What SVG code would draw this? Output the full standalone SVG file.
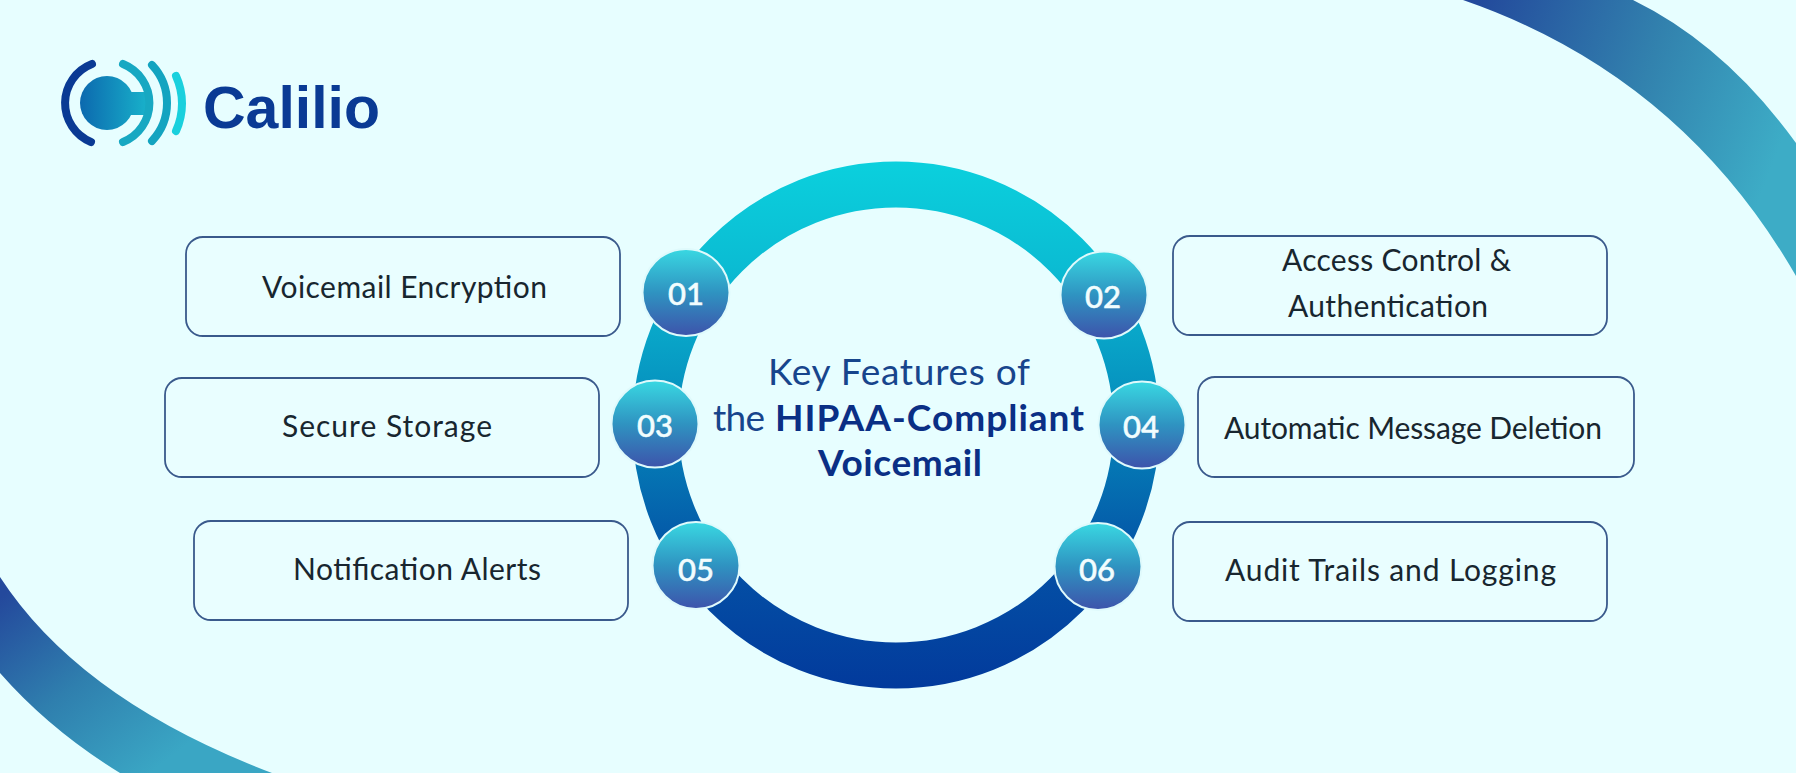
<svg xmlns="http://www.w3.org/2000/svg" width="1796" height="773" viewBox="0 0 1796 773">
<style>
.box{fill:#e9feff;stroke:#3a5a8c;stroke-width:1.8}
.lbl{font-family:"Lato","Noto Sans",sans-serif;font-size:30px;fill:#18262f}
.badge{fill:url(#badge);stroke:#dffafc;stroke-width:2}
.num{font-family:"Lato","Noto Sans",sans-serif;font-size:31px;font-weight:500;fill:#f2fdfe;text-anchor:middle;stroke:#f2fdfe;stroke-width:.5}
.ttl{font-family:"Lato","Noto Sans",sans-serif;font-size:37px;fill:#17458c}
.ttlb{font-weight:700;fill:#0a2f85}
.mk{fill:none;stroke-linecap:round;stroke-width:8}
</style>
<defs>
<linearGradient id="ringG" gradientUnits="userSpaceOnUse" x1="0" y1="162" x2="0" y2="688">
<stop offset="0" stop-color="#0bd0dd"/><stop offset="0.2" stop-color="#0bbcd3"/><stop offset="0.5" stop-color="#0587ba"/><stop offset="0.75" stop-color="#0452a6"/><stop offset="1" stop-color="#023a9c"/>
</linearGradient>
<linearGradient id="badge" x1="0" y1="0" x2="0" y2="1">
<stop offset="0" stop-color="#39d8e2"/><stop offset="0.5" stop-color="#2f93c1"/><stop offset="1" stop-color="#3d53ab"/>
</linearGradient>
<linearGradient id="tr" gradientUnits="userSpaceOnUse" x1="1480" y1="0" x2="1790" y2="120">
<stop offset="0" stop-color="#234a9c"/><stop offset="0.55" stop-color="#3282ae"/><stop offset="1" stop-color="#3dacc6"/>
</linearGradient>
<linearGradient id="bl" gradientUnits="userSpaceOnUse" x1="10" y1="590" x2="150" y2="773">
<stop offset="0" stop-color="#24499c"/><stop offset="0.5" stop-color="#2f7fae"/><stop offset="1" stop-color="#3aa6c4"/>
</linearGradient>
<linearGradient id="logoG" gradientUnits="userSpaceOnUse" x1="81" y1="0" x2="152" y2="0">
<stop offset="0" stop-color="#0c6aaf"/><stop offset="1" stop-color="#19b6cc"/>
</linearGradient>
</defs>
<rect width="1796" height="773" fill="#e7feff"/>
<g id="corner-top-right"><path d="M1463 0Q1680 75 1796 276L1796 143Q1725 45 1633 0Z" fill="url(#tr)"/></g>
<g id="corner-bottom-left"><path d="M0 577Q80 700 272 773L120 773Q50 730 0 673Z" fill="url(#bl)"/></g>
<g id="logo">
<path class="mk" d="M92 64A42 42 0 0 0 91 142" stroke="#0a3a94"/>
<circle cx="107" cy="103" r="27" fill="url(#logoG)"/>
<path d="M126 92L150 92L150 115L126 115Z" fill="url(#logoG)"/>
<path class="mk" d="M123 64A42 42 0 0 1 123 142" stroke="#17a8c2"/>
<path class="mk" d="M152 65A55.6 55.6 0 0 1 152 141" stroke="#13a4c0"/>
<path class="mk" d="M176 76A66 66 0 0 1 176 131" stroke="#1ad0dd"/>
<text x="203" y="128" textLength="177" style="font-family:'Liberation Sans',Arial,sans-serif;font-size:59px;font-weight:700;fill:#0a3a94">Calilio</text>
</g>
<g id="ring"><circle cx="896" cy="425" r="240.5" fill="none" stroke="url(#ringG)" stroke-width="46"/></g>
<g id="title">
<text class="ttl" x="768" y="385" textLength="262">Key Features of</text>
<text class="ttl" x="713" y="431" textLength="52">the</text>
<text class="ttl ttlb" x="775" y="431" textLength="309">HIPAA-Compliant</text>
<text class="ttl ttlb" x="818" y="476" textLength="164">Voicemail</text>
</g>
<g id="node-01">
<rect class="box" x="186" y="237" width="434" height="99" rx="17"/>
<text class="lbl" x="262" y="298" textLength="285">Voicemail Encryption</text>
<circle class="badge" cx="686" cy="292.5" r="43.5"/>
<text class="num" x="686" y="305">01</text>
</g>
<g id="node-02">
<rect class="box" x="1173" y="236" width="434" height="99" rx="17"/>
<text class="lbl" x="1282" y="271" textLength="229">Access Control &amp;</text>
<text class="lbl" x="1288" y="317" textLength="200">Authentication</text>
<circle class="badge" cx="1104" cy="295" r="43.5"/>
<text class="num" x="1103" y="308">02</text>
</g>
<g id="node-03">
<rect class="box" x="165" y="378" width="434" height="99" rx="17"/>
<text class="lbl" x="282" y="437" textLength="210">Secure Storage</text>
<circle class="badge" cx="655" cy="424" r="43.5"/>
<text class="num" x="655" y="437">03</text>
</g>
<g id="node-04">
<rect class="box" x="1198" y="377" width="436" height="100" rx="17"/>
<text class="lbl" x="1224" y="439" textLength="378">Automatic Message Deletion</text>
<circle class="badge" cx="1142" cy="425" r="43.5"/>
<text class="num" x="1141" y="438">04</text>
</g>
<g id="node-05">
<rect class="box" x="194" y="521" width="434" height="99" rx="17"/>
<text class="lbl" x="293" y="580" textLength="248">Notification Alerts</text>
<circle class="badge" cx="696" cy="565.5" r="43.5"/>
<text class="num" x="696" y="581">05</text>
</g>
<g id="node-06">
<rect class="box" x="1173" y="522" width="434" height="99" rx="17"/>
<text class="lbl" x="1225" y="581" textLength="331">Audit Trails and Logging</text>
<circle class="badge" cx="1098" cy="566.5" r="43.5"/>
<text class="num" x="1097" y="581">06</text>
</g>
</svg>
